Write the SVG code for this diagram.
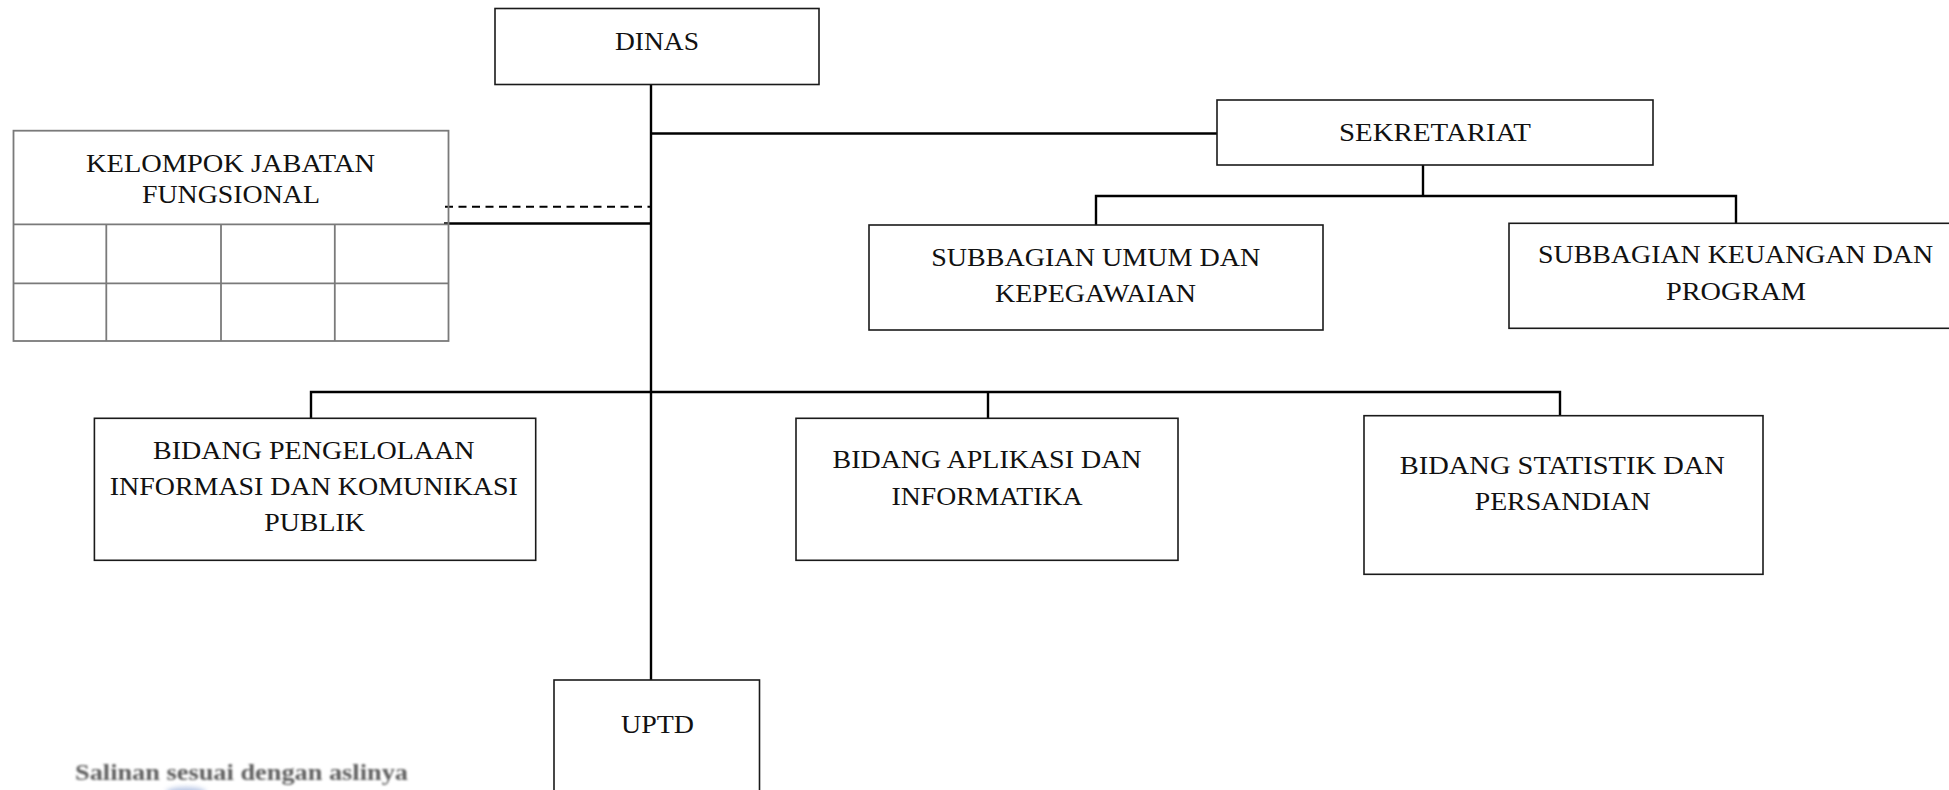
<svg xmlns="http://www.w3.org/2000/svg" width="1949" height="790" viewBox="0 0 1949 790">
  <style>
    .box { fill: #ffffff; stroke: #1a1a1a; stroke-width: 1.6; }
    .grid { fill: none; stroke: #7a7a7a; stroke-width: 1.8; }
    .lbl { font-family: "Liberation Serif", "Times New Roman", serif; font-size: 26px; fill: #111111; text-anchor: middle; }
    .link { fill: none; stroke: #000000; stroke-width: 2.4; }
    .dash { fill: none; stroke: #000000; stroke-width: 2; stroke-dasharray: 8 5.5; }
    .stamp { font-family: "Liberation Serif", "Times New Roman", serif; font-size: 23px; font-weight: bold; fill: #5e5e5e; }
  </style>
  <defs>
    <filter id="soft" x="-5%" y="-50%" width="110%" height="200%">
      <feGaussianBlur stdDeviation="0.8"/>
    </filter>
    <filter id="softer" x="-50%" y="-50%" width="200%" height="200%">
      <feGaussianBlur stdDeviation="2.5"/>
    </filter>
  </defs>

  <rect x="0" y="0" width="1949" height="790" fill="#ffffff"/>

  <!-- connectors -->
  <g id="connectors">
    <line class="link" x1="651" y1="83" x2="651" y2="681"/>
    <line class="link" x1="651" y1="133.5" x2="1217" y2="133.5"/>
    <line class="dash" x1="445" y1="206.7" x2="650" y2="206.7"/>
    <line class="link" x1="444" y1="223.5" x2="651" y2="223.5"/>
    <line class="link" x1="1423" y1="165" x2="1423" y2="196"/>
    <polyline class="link" points="1096,225 1096,196 1736,196 1736,223.5"/>
    <polyline class="link" points="311,418.5 311,392 1560,392 1560,416"/>
    <line class="link" x1="988" y1="392" x2="988" y2="418.5"/>
  </g>

  <!-- head of office -->
  <g id="dinas">
    <rect class="box" x="495" y="8.5" width="324" height="76"/>
    <text class="lbl" x="657" y="50" textLength="84" lengthAdjust="spacingAndGlyphs">DINAS</text>
  </g>

  <!-- functional group with its grid -->
  <g id="kelompok-jabatan-fungsional">
    <rect class="grid" x="13.5" y="130.7" width="435" height="210.3"/>
    <line class="grid" x1="13.5" y1="224.3" x2="448.5" y2="224.3"/>
    <line class="grid" x1="13.5" y1="283.3" x2="448.5" y2="283.3"/>
    <line class="grid" x1="106.3" y1="224.3" x2="106.3" y2="341"/>
    <line class="grid" x1="221" y1="224.3" x2="221" y2="341"/>
    <line class="grid" x1="334.8" y1="224.3" x2="334.8" y2="341"/>
    <text class="lbl" x="230.5" y="171.7" textLength="289" lengthAdjust="spacingAndGlyphs">KELOMPOK JABATAN</text>
    <text class="lbl" x="231" y="202.7" textLength="178" lengthAdjust="spacingAndGlyphs">FUNGSIONAL</text>
  </g>

  <g id="sekretariat">
    <rect class="box" x="1217" y="100" width="436" height="65"/>
    <text class="lbl" x="1435" y="141" textLength="192" lengthAdjust="spacingAndGlyphs">SEKRETARIAT</text>
  </g>

  <g id="subbagian-umum">
    <rect class="box" x="869" y="225" width="454" height="105"/>
    <text class="lbl" x="1095.7" y="265.7" textLength="329" lengthAdjust="spacingAndGlyphs">SUBBAGIAN UMUM DAN</text>
    <text class="lbl" x="1095.5" y="301.7" textLength="201" lengthAdjust="spacingAndGlyphs">KEPEGAWAIAN</text>
  </g>

  <g id="subbagian-keuangan">
    <rect class="box" x="1509" y="223.3" width="460" height="105"/>
    <text class="lbl" x="1735.6" y="263" textLength="395" lengthAdjust="spacingAndGlyphs">SUBBAGIAN KEUANGAN DAN</text>
    <text class="lbl" x="1736" y="300" textLength="140" lengthAdjust="spacingAndGlyphs">PROGRAM</text>
  </g>

  <g id="bidang-pengelolaan">
    <rect class="box" x="94.4" y="418.3" width="441.3" height="142"/>
    <text class="lbl" x="313.8" y="459" textLength="321.5" lengthAdjust="spacingAndGlyphs">BIDANG PENGELOLAAN</text>
    <text class="lbl" x="313.8" y="495" textLength="408" lengthAdjust="spacingAndGlyphs">INFORMASI DAN KOMUNIKASI</text>
    <text class="lbl" x="314.5" y="530.7" textLength="100.5" lengthAdjust="spacingAndGlyphs">PUBLIK</text>
  </g>

  <g id="bidang-aplikasi">
    <rect class="box" x="796" y="418.3" width="382" height="142"/>
    <text class="lbl" x="987" y="468.3" textLength="309" lengthAdjust="spacingAndGlyphs">BIDANG APLIKASI DAN</text>
    <text class="lbl" x="987" y="505" textLength="191" lengthAdjust="spacingAndGlyphs">INFORMATIKA</text>
  </g>

  <g id="bidang-statistik">
    <rect class="box" x="1364" y="415.7" width="399" height="158.6"/>
    <text class="lbl" x="1562.3" y="474.3" textLength="325" lengthAdjust="spacingAndGlyphs">BIDANG STATISTIK DAN</text>
    <text class="lbl" x="1562.7" y="510" textLength="176" lengthAdjust="spacingAndGlyphs">PERSANDIAN</text>
  </g>

  <g id="uptd">
    <rect class="box" x="554" y="680" width="205.5" height="130"/>
    <text class="lbl" x="657.5" y="733" textLength="73" lengthAdjust="spacingAndGlyphs">UPTD</text>
  </g>

  <!-- certification note at the bottom left -->
  <g id="salinan">
    <text class="stamp" x="75" y="780" textLength="333" lengthAdjust="spacingAndGlyphs" filter="url(#soft)">Salinan sesuai dengan aslinya</text>
    <ellipse cx="186" cy="792" rx="20" ry="5" fill="#8fa6d6" opacity="0.6" filter="url(#softer)"/>
  </g>
</svg>
